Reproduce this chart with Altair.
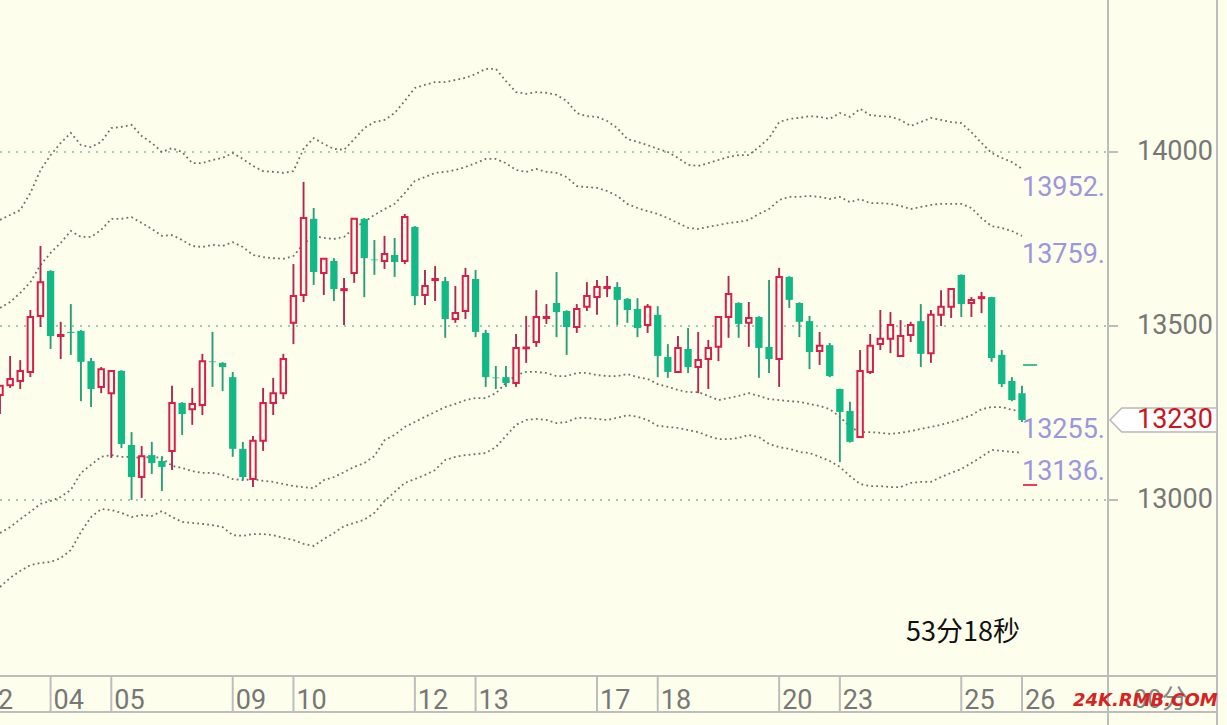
import altair as alt
import pandas as pd

BG = "#fefeec"
RED = "#d81e4a"
RED_WICK = "#ad2a55"
GREEN = "#12b886"
GREEN_WICK = "#2a9d7a"

# ---- candles (4-hour bars), index 0..101 ----
opens = [13302, 13330, 13342, 13368, 13529, 13658, 13471, 13483, 13486, 13399,
         13325, 13307, 13371, 13158, 13066, 13129, 13112, 13141, 13279, 13261,
         13273, 13398, 13394, 13353, 13147, 13060, 13170, 13279, 13307, 13509,
         13589, 13808, 13652, 13687, 13603, 13652, 13808, 13691, 13687, 13704,
         13687, 13785, 13589, 13632, 13629, 13520, 13543, 13635, 13480, 13352,
         13353, 13336, 13436, 13454, 13523, 13566, 13543, 13497, 13555, 13583,
         13609, 13612, 13578, 13549, 13503, 13532, 13411, 13368, 13434, 13382,
         13405, 13440, 13526, 13566, 13509, 13526, 13440, 13405, 13641, 13566,
         13514, 13428, 13445, 13319, 13256, 13181, 13368, 13448, 13463, 13414,
         13474, 13514, 13422, 13532, 13555, 13647, 13566, 13580, 13583, 13417,
         13342, 13307]
highs = [13330, 13414, 13402, 13546, 13730, 13660, 13512, 13563, 13488, 13408,
         13382, 13373, 13373, 13195, 13155, 13167, 13126, 13328, 13281, 13322,
         13420, 13483, 13396, 13368, 13167, 13184, 13322, 13351, 13420, 13678,
         13914, 13839, 13695, 13695, 13638, 13810, 13810, 13747, 13759, 13753,
         13822, 13787, 13661, 13672, 13641, 13615, 13667, 13661, 13489, 13385,
         13385, 13477, 13529, 13603, 13563, 13655, 13545, 13563, 13626, 13632,
         13644, 13626, 13580, 13580, 13563, 13557, 13448, 13471, 13494, 13483,
         13460, 13528, 13644, 13568, 13569, 13528, 13632, 13667, 13643, 13568,
         13529, 13483, 13451, 13320, 13282, 13431, 13477, 13546, 13540, 13517,
         13512, 13563, 13546, 13603, 13609, 13648, 13583, 13598, 13584, 13431,
         13353, 13328]
lows = [13247, 13322, 13319, 13353, 13497, 13434, 13405, 13417, 13284, 13267,
        13307, 13121, 13149, 13000, 13006, 13075, 13026, 13086, 13187, 13216,
        13244, 13325, 13313, 13124, 13057, 13037, 13141, 13244, 13290, 13448,
        13569, 13618, 13589, 13572, 13503, 13624, 13583, 13647, 13664, 13641,
        13678, 13560, 13560, 13572, 13466, 13509, 13520, 13468, 13325, 13319,
        13325, 13325, 13394, 13440, 13506, 13468, 13417, 13480, 13543, 13532,
        13583, 13503, 13509, 13468, 13480, 13353, 13351, 13365, 13365, 13307,
        13319, 13399, 13466, 13466, 13440, 13351, 13365, 13325, 13552, 13468,
        13376, 13388, 13353, 13109, 13165, 13179, 13362, 13431, 13422, 13411,
        13454, 13382, 13394, 13500, 13523, 13526, 13526, 13537, 13397, 13325,
        13284, 13224]
closes = [13328, 13348, 13371, 13526, 13626, 13471, 13474, 13480, 13397, 13319,
          13376, 13371, 13161, 13066, 13126, 13106, 13095, 13279, 13247, 13276,
          13399, 13396, 13382, 13147, 13066, 13170, 13279, 13307, 13405, 13586,
          13810, 13655, 13693, 13606, 13606, 13808, 13695, 13689, 13707, 13684,
          13813, 13586, 13615, 13635, 13520, 13537, 13644, 13483, 13353, 13350,
          13336, 13437, 13438, 13526, 13526, 13540, 13497, 13549, 13586, 13612,
          13612, 13575, 13546, 13494, 13555, 13414, 13368, 13437, 13382, 13402,
          13437, 13526, 13592, 13506, 13523, 13437, 13405, 13641, 13575, 13512,
          13425, 13443, 13356, 13253, 13167, 13371, 13443, 13463, 13503, 13471,
          13503, 13420, 13532, 13555, 13606, 13563, 13575, 13583, 13408, 13333,
          13287, 13230]

# ---- band lines (dotted) ----
band_outer_up = [13805, 13819, 13833, 13882, 13948, 13991, 14026, 14055, 14020, 14014,
                 14029, 14069, 14072, 14078, 14046, 14026, 14000, 14011, 14000, 13968,
                 13968, 13977, 13983, 13997, 13980, 13960, 13945, 13943, 13940, 13945,
                 14009, 14040, 14023, 14009, 14006, 14037, 14069, 14086, 14092, 14112,
                 14147, 14184, 14193, 14201, 14201, 14207, 14213, 14224, 14239, 14239,
                 14204, 14172, 14167, 14172, 14170, 14164, 14147, 14112, 14103, 14101,
                 14089, 14069, 14037, 14029, 14020, 14009, 14000, 13983, 13963, 13960,
                 13968, 13977, 13986, 13991, 13991, 14014, 14040, 14086, 14095, 14098,
                 14103, 14101, 14095, 14112, 14101, 14124, 14106, 14103, 14101, 14092,
                 14075, 14086, 14098, 14092, 14086, 14083, 14057, 14026, 13997, 13983,
                 13971, 13952]
band_inner_up = [13552, 13569, 13595, 13626, 13675, 13710, 13739, 13773, 13756, 13756,
                 13776, 13808, 13808, 13813, 13796, 13779, 13759, 13761, 13747, 13730,
                 13727, 13733, 13730, 13741, 13727, 13704, 13698, 13695, 13693, 13701,
                 13736, 13759, 13753, 13750, 13756, 13782, 13799, 13819, 13836, 13851,
                 13882, 13917, 13928, 13940, 13943, 13948, 13957, 13968, 13980, 13980,
                 13968, 13948, 13943, 13951, 13943, 13940, 13928, 13902, 13899, 13897,
                 13888, 13874, 13851, 13839, 13830, 13822, 13810, 13796, 13782, 13779,
                 13785, 13790, 13796, 13799, 13805, 13822, 13836, 13862, 13871, 13871,
                 13874, 13871, 13865, 13871, 13856, 13865, 13853, 13853, 13851, 13845,
                 13836, 13842, 13848, 13851, 13851, 13851, 13839, 13810, 13787, 13782,
                 13773, 13759]
band_inner_low = [12905, 12922, 12945, 12966, 12989, 12997, 13009, 13029, 13078, 13101,
                  13124, 13129, 13124, 13124, 13121, 13124, 13121, 13098, 13092, 13083,
                  13078, 13078, 13072, 13060, 13057, 13060, 13055, 13052, 13046, 13040,
                  13037, 13034, 13057, 13066, 13080, 13095, 13106, 13126, 13172, 13187,
                  13210, 13224, 13239, 13253, 13267, 13276, 13287, 13293, 13293, 13307,
                  13336, 13359, 13368, 13368, 13365, 13356, 13356, 13365, 13365, 13359,
                  13356, 13356, 13362, 13353, 13348, 13333, 13325, 13316, 13310, 13310,
                  13299, 13287, 13293, 13299, 13307, 13299, 13290, 13287, 13284, 13282,
                  13276, 13270, 13261, 13239, 13210, 13195, 13195, 13193, 13190, 13193,
                  13198, 13204, 13210, 13216, 13224, 13233, 13244, 13261, 13267, 13267,
                  13259, 13255]
band_outer_low = [12750, 12776, 12796, 12813, 12819, 12822, 12833, 12856, 12908, 12951,
                  12974, 12971, 12963, 12951, 12957, 12954, 12968, 12951, 12937, 12934,
                  12931, 12928, 12922, 12899, 12897, 12902, 12902, 12899, 12891, 12885,
                  12874, 12868, 12888, 12905, 12925, 12934, 12943, 12963, 12997, 13023,
                  13049, 13060, 13072, 13086, 13115, 13124, 13129, 13132, 13135, 13152,
                  13184, 13216, 13230, 13233, 13230, 13221, 13224, 13236, 13236, 13233,
                  13230, 13236, 13244, 13239, 13230, 13213, 13210, 13207, 13201, 13195,
                  13184, 13175, 13175, 13178, 13187, 13181, 13161, 13152, 13147, 13138,
                  13135, 13124, 13112, 13095, 13069, 13046, 13040, 13040, 13037, 13037,
                  13049, 13052, 13052, 13066, 13078, 13089, 13106, 13124, 13144, 13141,
                  13138, 13136]
band_labels = ["13952.", "13759.", "13255.", "13136."]

# ---- axes content ----
grid_values = [13000, 13500, 14000]
grid_labels = ["13000", "13500", "14000"]
day_index = [-2, 5, 11, 23, 29, 41, 47, 59, 65, 77, 83, 95, 101]
day_labels = ["02", "04", "05", "09", "10", "12", "13", "17", "18", "20", "23", "25", "26"]
last_price = 13230
mark_hi = 13388
mark_lo = 13043
timer_text = "53分18秒"

N = len(opens)
idx = list(range(N))
cdf = pd.DataFrame({"i": idx, "o": opens, "h": highs, "l": lows, "c": closes})
cdf["up"] = cdf["c"] >= cdf["o"]

bands = {"A": band_outer_up, "B": band_inner_up, "C": band_inner_low, "D": band_outer_low}
bdf = pd.concat([pd.DataFrame({"i": idx, "v": vals, "band": k}) for k, vals in bands.items()])
ldf = pd.DataFrame({"i": [N - 1] * 4, "v": [vals[-1] for vals in bands.values()], "lab": band_labels})
gdf = pd.DataFrame({"v": grid_values, "lab": grid_labels})
ddf = pd.DataFrame({"i": day_index, "lab": day_labels})
pdf = pd.DataFrame({"p": [last_price], "lab": [str(last_price)]})
mdf = pd.DataFrame({"i": [N - 0.9, N - 0.9], "i2": [N + 0.5, N + 0.5],
                    "v": [mark_hi, mark_lo], "kind": ["hi", "lo"]})

XS = alt.Scale(domain=[0, 109.5], nice=False, zero=False)
YS = alt.Scale(domain=[12494.2, 14436.8], nice=False, zero=False)
FONT = "Roboto"

grid = alt.Chart(gdf).mark_rule(color="#3f9a6c", strokeDash=[2, 6], strokeWidth=1.2).encode(
    y=alt.Y("v:Q", scale=YS, axis=None), x=alt.value(0), x2=alt.value(1108))

band_lines = alt.Chart(bdf).mark_line(color="#6f6f6f", strokeDash=[1.8, 3.2], strokeWidth=1.8).encode(
    x=alt.X("i:Q", scale=XS, axis=None), y=alt.Y("v:Q", scale=YS, axis=None), detail="band:N")

base = alt.Chart(cdf)
wick_up = base.transform_filter("datum.up").mark_rule(color=RED_WICK, strokeWidth=1.9).encode(
    x=alt.X("i:Q", scale=XS, axis=None), y=alt.Y("l:Q", scale=YS, axis=None), y2="h:Q")
wick_dn = base.transform_filter("!datum.up").mark_rule(color=GREEN_WICK, strokeWidth=1.9).encode(
    x=alt.X("i:Q", scale=XS, axis=None), y=alt.Y("l:Q", scale=YS, axis=None), y2="h:Q")
body_dn = base.transform_filter("!datum.up").transform_calculate(
    xl="datum.i - 0.36", xr="datum.i + 0.36").mark_rect(color=GREEN).encode(
    x=alt.X("xl:Q", scale=XS, axis=None), x2="xr:Q", y=alt.Y("o:Q", scale=YS, axis=None), y2="c:Q")
body_up = base.transform_filter("datum.up").transform_calculate(
    xl="datum.i - 0.27", xr="datum.i + 0.27").mark_rect(fill=BG, stroke=RED, strokeWidth=2).encode(
    x=alt.X("xl:Q", scale=XS, axis=None), x2="xr:Q", y=alt.Y("o:Q", scale=YS, axis=None), y2="c:Q")

markers = alt.Chart(mdf).mark_rule(strokeWidth=2).encode(
    x=alt.X("i:Q", scale=XS, axis=None), x2="i2:Q", y=alt.Y("v:Q", scale=YS, axis=None),
    color=alt.Color("kind:N", scale=alt.Scale(domain=["hi", "lo"], range=["#3cc296", "#e5425f"]), legend=None))

band_text = alt.Chart(ldf).mark_text(align="left", baseline="alphabetic", dx=0, dy=27, fontSize=27,
                                     font=FONT, color="#9c97dc").encode(
    x=alt.X("i:Q", scale=XS, axis=None), y=alt.Y("v:Q", scale=YS, axis=None), text="lab:N")

# frame lines
frame_v = alt.Chart(pd.DataFrame({"x": [1108, 1217]})).mark_rule(color="#bdbdbd", strokeWidth=2).encode(
    x=alt.X("x:Q", scale=None), y=alt.value(0), y2=alt.value(725))
frame_h = alt.Chart(pd.DataFrame({"y": [676, 712]})).mark_rule(color="#bdbdbd", strokeWidth=2).encode(
    y=alt.Y("y:Q", scale=None), x=alt.value(0), x2=alt.value(1217))

yticks = alt.Chart(gdf).mark_rule(color="#bdbdbd", strokeWidth=2).encode(
    y=alt.Y("v:Q", scale=YS, axis=None), x=alt.value(1108), x2=alt.value(1118))
ylabels = alt.Chart(gdf).mark_text(align="left", baseline="middle", fontSize=27, font=FONT,
                                   color="#777777").encode(
    y=alt.Y("v:Q", scale=YS, axis=None), x=alt.value(1137), text="lab:N")

day_sep = alt.Chart(ddf).mark_rule(color="#bdbdbd", strokeWidth=2).encode(
    x=alt.X("i:Q", scale=XS, axis=None), y=alt.value(676), y2=alt.value(712))
day_text = alt.Chart(ddf).mark_text(align="left", baseline="alphabetic", dx=3, fontSize=27, font=FONT,
                                    color="#777777").encode(
    x=alt.X("i:Q", scale=XS, axis=None), y=alt.value(709), text="lab:N")

tag_shape = "M -1 0 L -0.78 -0.224 L 1 -0.224 L 1 0.224 L -0.78 0.224 Z"
tag = alt.Chart(pdf).mark_point(shape=tag_shape, size=11449, filled=True, fill="#ffffff",
                                stroke="#b8b8b8", strokeWidth=1.5, opacity=1).encode(
    y=alt.Y("p:Q", scale=YS, axis=None), x=alt.value(1163.5))
tag_text = alt.Chart(pdf).mark_text(align="left", baseline="middle", fontSize=27, font=FONT,
                                    color="#c8161e").encode(
    y=alt.Y("p:Q", scale=YS, axis=None), x=alt.value(1137), text="lab:N")

misc = pd.DataFrame({"t": [timer_text]})
timer = alt.Chart(misc).mark_text(align="left", baseline="alphabetic", fontSize=27,
                                  font="Noto Sans CJK SC", color="#111111").encode(
    x=alt.value(906), y=alt.value(641), text="t:N")
minutes = alt.Chart(pd.DataFrame({"t": ["00分"]})).mark_text(
    align="left", baseline="alphabetic", fontSize=26, font="Noto Sans CJK SC", color="#888888").encode(
    x=alt.value(1133), y=alt.value(708), text="t:N")
watermark = alt.Chart(pd.DataFrame({"t": ["24K.RMB.COM"]})).mark_text(
    align="left", baseline="alphabetic", fontSize=18, font="DejaVu Sans", fontWeight="bold",
    fontStyle="italic", color="#d42424").encode(
    x=alt.value(1073), y=alt.value(706), text="t:N")

chart = alt.layer(
    grid, band_lines, wick_up, wick_dn, body_dn, body_up, markers, band_text,
    frame_v, frame_h, yticks, ylabels, day_sep, day_text, tag, tag_text, timer, minutes, watermark
).properties(
    width=1108, height=676,
    padding={"left": 0, "top": 0, "right": 119, "bottom": 49},
    autosize=alt.AutoSizeParams(type="none"),
    background=BG,
).configure_view(strokeWidth=0)

chart.save("out.html", embed_options={"renderer": "svg", "actions": False})
